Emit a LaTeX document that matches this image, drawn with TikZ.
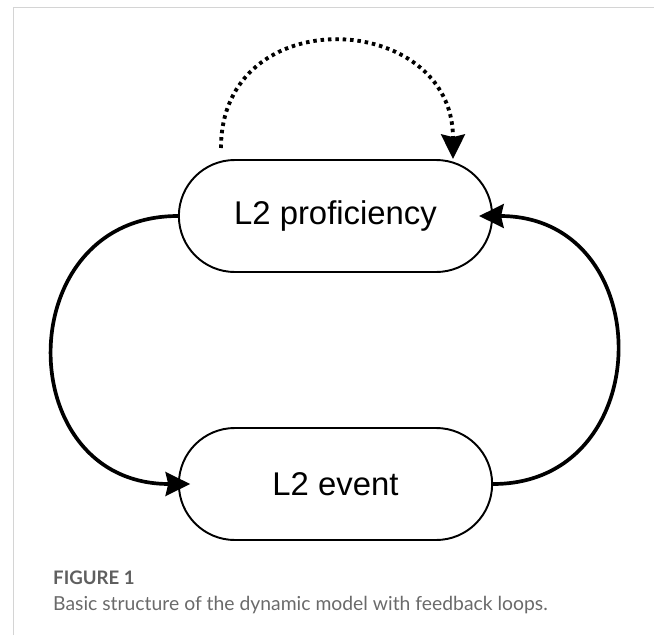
\documentclass[tikz,border=0pt]{standalone}
\usepackage{fontspec}
\setmainfont{Liberation Sans}
\newfontfamily\capfont{Lato}
\usetikzlibrary{shapes.misc,arrows.meta}

\definecolor{capgray}{HTML}{6A6A6A}
\definecolor{framegray}{HTML}{D4D4D4}

\begin{document}
\begin{tikzpicture}[
    statebox/.style={rounded rectangle, draw, line width=1.1pt,
      minimum width=6.5cm, minimum height=2.24cm, font=\fontsize{18.7}{22}\selectfont},
    fbarrow/.style={line width=2.1pt, -{Stealth[inset=1.5pt,length=14pt,width=13.5pt]}}
  ]
      \useasboundingbox (0,0) rectangle (13.08,-12.7);
      \draw [framegray, line width=0.8pt] (0.27,-12.7) -- (0.27,-0.15) -- (13.08,-0.15);

      \node [statebox] (prof) at (6.71,-4.32) {L2 proficiency};
      \node [statebox] (event) at (6.71,-9.68) {L2 event};

      \draw [fbarrow, shorten >=-7pt] (prof.west) to [out=180,in=180,looseness=1.61] (event.west);
      \draw [fbarrow, shorten >=-8pt] (event.east) to [out=0,in=0,looseness=1.59] (prof.east);

      \coordinate (selfstart) at (4.42,-2.96);
      \draw [fbarrow, line width=2.2pt, dash pattern=on 2pt off 2.2pt] (selfstart) to [out=90,in=90,looseness=1.64] ([xshift=2.35cm]prof.north);

      \node [anchor=base west, capgray!90!black, font=\capfont\bfseries\fontsize{10.6}{12}\selectfont] (fignum) at (0.94,-11.68) {FIGURE 1};
      \node [anchor=base west, capgray, font=\capfont\fontsize{11}{12}\selectfont] (figcap) at (0.94,-12.2) {Basic structure of the dynamic model with feedback loops.};
    \end{tikzpicture}
\end{document}
